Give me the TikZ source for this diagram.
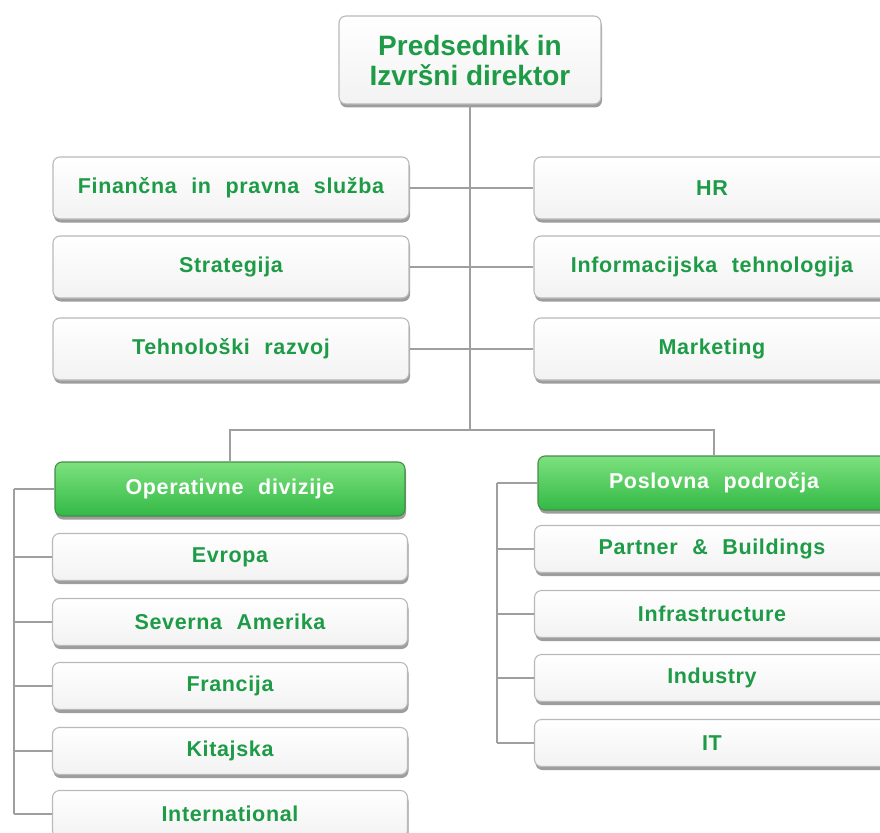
\documentclass[tikz,border=0pt]{standalone}
\usepackage{fontspec}
\setmainfont{Liberation Sans}
\newfontfamily\boxfont[LetterSpace=3,WordSpace=2.2]{Liberation Sans}
\usetikzlibrary{shadows}

\definecolor{txtgreen}{RGB}{30,155,70}
\definecolor{headtop}{RGB}{125,225,125}
\definecolor{headbot}{RGB}{50,185,70}
\definecolor{headline}{RGB}{70,140,75}

\begin{document}
\begin{tikzpicture}[
            x=1pt, y=-1pt,
            font=\boxfont\bfseries\fontsize{21.5}{24}\selectfont,
            unit/.style={draw=gray!55, line width=1.1pt, rounded corners=7pt,
                top color=white, bottom color=gray!10, text=txtgreen,
                minimum width=356pt, minimum height=62pt,
                drop shadow={shadow xshift=1pt, shadow yshift=-3.5pt, opacity=0.7, fill=black!55}},
            region/.style={unit, minimum width=355pt, minimum height=47pt},
            head/.style={unit, minimum width=352pt, minimum height=54pt,
                top color=headtop, bottom color=headbot, draw=headline, text=white},
            link/.style={draw=gray!75, line width=1.6pt}
        ]
            \useasboundingbox (0,0) rectangle (880,832);
            \clip (0,0) rectangle (880,832);

            % --- Vertice ---
            \node[unit, minimum width=262pt, minimum height=88pt, align=center,
                  font=\bfseries\fontsize{28}{30}\selectfont] (ceo) at (470,60)
                  {Predsednik in\\Izvršni direktor};

            % --- Servizi centrali ---
            \node[unit] (fin)   at (231,188) {Finančna in pravna služba};
            \node[unit] (strat) at (231,267) {Strategija};
            \node[unit] (tech)  at (231,349) {Tehnološki razvoj};
            \node[unit] (hr)    at (712,188) {HR};
            \node[unit] (info)  at (712,267) {Informacijska tehnologija};
            \node[unit] (mkt)   at (712,349) {Marketing};

            % --- Divisioni operative (sinistra) ---
            \node[head, minimum width=350pt] (ops) at (230,489) {Operativne divizije};
            \node[region] (evr)  at (230,557) {Evropa};
            \node[region] (sev)  at (230,622) {Severna Amerika};
            \node[region] (fra)  at (230,686) {Francija};
            \node[region] (kit)  at (230,751) {Kitajska};
            \node[region] (intl) at (230,814) {International};

            % --- Aree di business (destra) ---
            \node[head] (biz) at (714,483) {Poslovna področja};
            \node[region] (ptn) at (712,549) {Partner \& Buildings};
            \node[region] (inf) at (712,614) {Infrastructure};
            \node[region] (ind) at (712,678) {Industry};
            \node[region] (it)  at (712,743) {IT};

            % --- Collegamenti ---
            \coordinate (bar)   at (470,430);
            \coordinate (lrail) at (14,0);
            \coordinate (rrail) at (497,0);

            \draw[link] (ceo.south) -- (bar);
            \draw[link] (fin.east) -- (hr.west);
            \draw[link] (strat.east) -- (info.west);
            \draw[link] (tech.east) -- (mkt.west);
            \draw[link] (ops.north) |- (bar) -| (biz.north);

            \foreach \n in {ops,evr,sev,fra,kit,intl}
                \draw[link] (\n.west) -- (\n.west -| lrail);
            \draw[link] (ops.west -| lrail) -- (intl.west -| lrail);

            \foreach \n in {biz,ptn,inf,ind,it}
                \draw[link] (\n.west) -- (\n.west -| rrail);
            \draw[link] (biz.west -| rrail) -- (it.west -| rrail);

    \end{tikzpicture}
\end{document}
